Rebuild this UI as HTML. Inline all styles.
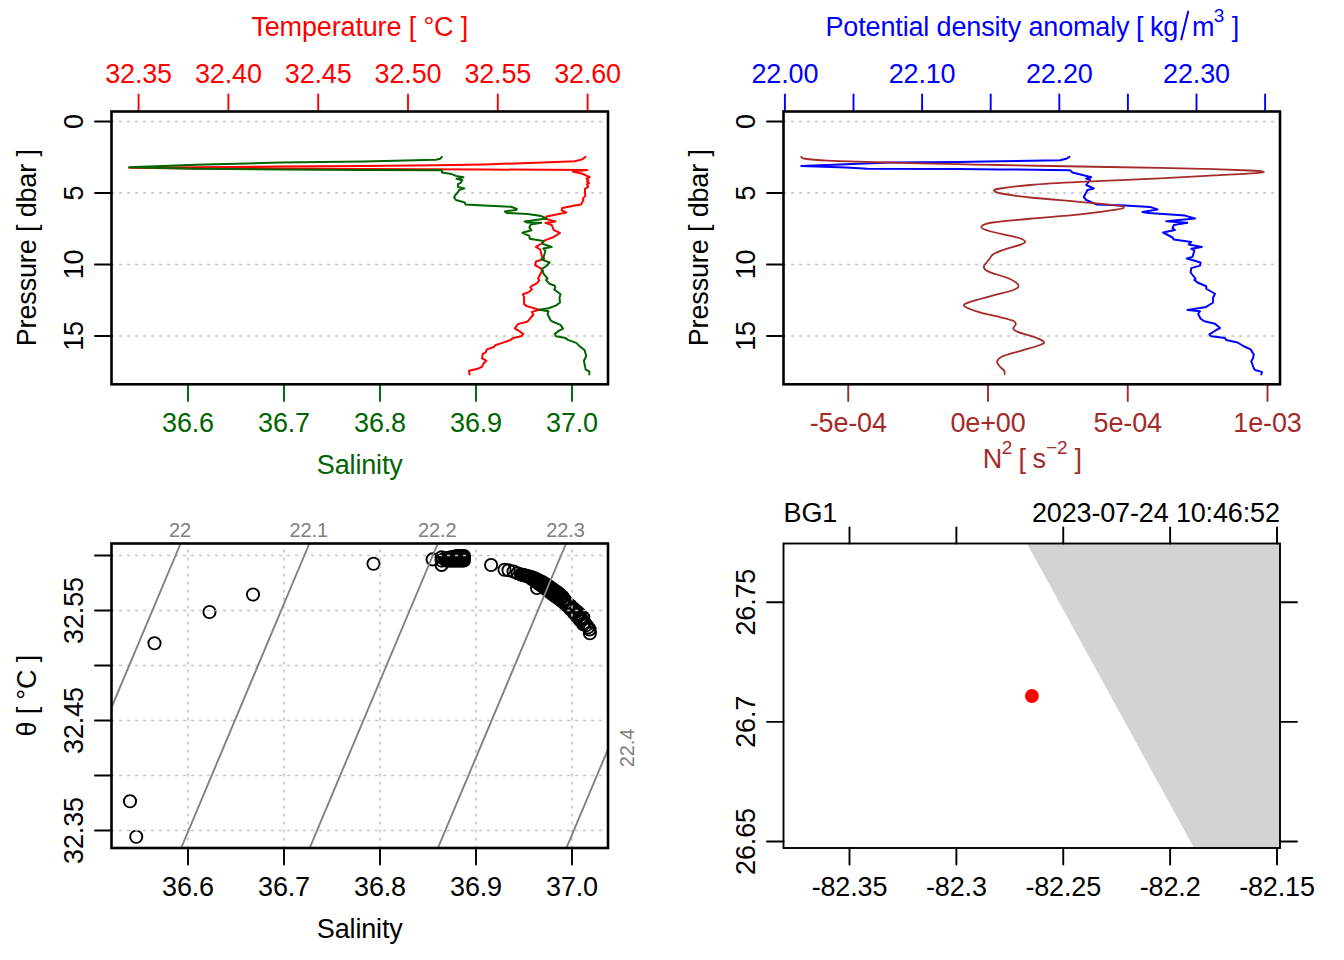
<!DOCTYPE html><html><head><meta charset="utf-8"><style>html,body{margin:0;padding:0;background:#fff;overflow:hidden}svg{display:block}</style></head><body><svg width="1344" height="960" viewBox="0 0 1344 960" font-family="Liberation Sans, sans-serif" style="letter-spacing:-0.15px">
<rect width="1344" height="960" fill="#fff"/>
<line x1="111.5" y1="121.5" x2="608.0" y2="121.5" stroke="#C4C4C4" stroke-width="1.6" stroke-linecap="butt" stroke-dasharray="3 5" stroke-dashoffset="0.4"/>
<line x1="111.5" y1="193.0" x2="608.0" y2="193.0" stroke="#C4C4C4" stroke-width="1.6" stroke-linecap="butt" stroke-dasharray="3 5" stroke-dashoffset="0.4"/>
<line x1="111.5" y1="264.5" x2="608.0" y2="264.5" stroke="#C4C4C4" stroke-width="1.6" stroke-linecap="butt" stroke-dasharray="3 5" stroke-dashoffset="0.4"/>
<line x1="111.5" y1="336.0" x2="608.0" y2="336.0" stroke="#C4C4C4" stroke-width="1.6" stroke-linecap="butt" stroke-dasharray="3 5" stroke-dashoffset="0.4"/>
<polyline points="585.40,156.90 582.25,159.40 574.75,161.25 556.00,162.00 484.00,164.50 436.00,165.30 364.00,166.00 280.00,166.60 196.00,167.20 129.20,167.80 196.00,168.40 364.00,168.90 484.00,169.50 587.25,170.00 572.90,171.60 582.25,173.75 589.75,177.20 586.60,178.75 588.50,180.60 587.00,181.90 589.10,183.10 587.00,184.40 588.20,186.90 585.00,188.75 585.00,193.10 585.40,195.60 582.90,198.75 583.50,200.00 581.00,204.40 574.75,205.60 562.25,208.10 561.60,210.40 566.25,212.50 546.50,216.50 545.40,218.75 555.30,221.40 545.40,222.90 551.70,225.00 553.75,230.20 560.00,232.80 553.75,237.00 545.40,240.10 541.25,243.75 536.00,246.90 540.20,249.50 542.30,257.80 544.40,258.90 536.00,261.50 535.00,265.10 541.25,268.60 541.80,271.25 538.10,278.50 539.20,280.10 537.10,283.20 531.90,285.80 530.30,287.40 531.90,289.50 528.75,292.10 523.00,294.20 524.10,297.30 524.10,304.10 526.70,306.10 539.20,309.80 531.90,311.90 533.40,314.50 528.75,320.20 527.20,321.80 518.30,323.85 514.70,328.30 518.40,330.60 523.20,333.90 521.40,336.30 513.10,338.10 510.70,339.90 502.40,342.90 495.20,345.20 494.00,347.00 486.90,349.40 485.70,352.40 482.70,354.20 482.10,358.30 486.30,360.70 483.30,363.70 482.10,366.70 478.60,368.50 469.00,370.80 469.60,374.40" fill="none" stroke="#FF0000" stroke-width="2.0" stroke-linejoin="round" stroke-linecap="round"/>
<polyline points="441.90,156.90 440.10,158.75 436.00,159.70 364.00,161.60 280.00,162.50 196.00,164.70 129.20,167.30 196.00,168.75 280.00,169.50 364.00,170.00 441.90,170.20 441.90,172.50 451.60,174.10 456.00,175.90 463.50,177.20 456.60,178.75 462.25,180.30 460.70,182.80 457.90,184.10 457.90,186.90 464.40,188.40 459.10,190.00 458.20,191.90 455.40,195.00 454.10,197.50 456.00,200.00 464.75,202.50 465.40,204.40 484.00,205.60 511.00,206.80 516.80,208.90 516.30,209.90 504.80,211.50 506.90,213.00 527.70,214.10 541.25,216.10 546.50,218.50 524.60,221.40 526.70,222.40 541.25,222.70 530.80,224.50 529.30,227.60 531.40,230.20 522.50,232.80 529.30,235.90 529.80,238.75 543.30,241.10 542.30,243.75 551.70,246.90 543.30,248.40 545.40,251.00 543.30,258.30 541.25,259.40 549.60,262.50 546.50,266.00 542.30,268.60 543.30,273.30 547.50,278.50 545.90,280.10 549.60,283.75 554.80,285.80 555.30,287.40 554.30,289.50 560.50,294.20 559.50,297.80 560.00,302.50 555.80,305.60 548.50,308.20 539.20,309.80 548.50,311.35 547.50,314.00 550.60,320.20 552.70,321.80 560.50,324.90 563.10,328.60 559.50,330.40 554.80,333.90 556.00,336.30 565.50,338.10 567.90,339.90 576.20,342.90 579.80,346.40 584.50,350.00 586.30,356.00 583.90,360.70 585.70,369.60 589.30,371.40 589.30,374.40" fill="none" stroke="#006400" stroke-width="2.0" stroke-linejoin="round" stroke-linecap="round"/>
<line x1="95" y1="121.5" x2="111.5" y2="121.5" stroke="#000" stroke-width="1.9" stroke-linecap="round" />
<text transform="translate(82.8,121.5) rotate(-90)" text-anchor="middle" font-size="27" fill="#000" >0</text>
<line x1="95" y1="193.0" x2="111.5" y2="193.0" stroke="#000" stroke-width="1.9" stroke-linecap="round" />
<text transform="translate(82.8,193.0) rotate(-90)" text-anchor="middle" font-size="27" fill="#000" >5</text>
<line x1="95" y1="264.5" x2="111.5" y2="264.5" stroke="#000" stroke-width="1.9" stroke-linecap="round" />
<text transform="translate(82.8,264.5) rotate(-90)" text-anchor="middle" font-size="27" fill="#000" >10</text>
<line x1="95" y1="336.0" x2="111.5" y2="336.0" stroke="#000" stroke-width="1.9" stroke-linecap="round" />
<text transform="translate(82.8,336.0) rotate(-90)" text-anchor="middle" font-size="27" fill="#000" >15</text>
<text transform="translate(36,247.75) rotate(-90)" text-anchor="middle" font-size="27" fill="#000" >Pressure [ dbar ]</text>
<line x1="138.6" y1="94.5" x2="138.6" y2="111.5" stroke="#FF0000" stroke-width="1.9" stroke-linecap="round" />
<text x="138.6" y="82.5" text-anchor="middle" font-size="27" fill="#FF0000" >32.35</text>
<line x1="228.39999999999998" y1="94.5" x2="228.39999999999998" y2="111.5" stroke="#FF0000" stroke-width="1.9" stroke-linecap="round" />
<text x="228.39999999999998" y="82.5" text-anchor="middle" font-size="27" fill="#FF0000" >32.40</text>
<line x1="318.2" y1="94.5" x2="318.2" y2="111.5" stroke="#FF0000" stroke-width="1.9" stroke-linecap="round" />
<text x="318.2" y="82.5" text-anchor="middle" font-size="27" fill="#FF0000" >32.45</text>
<line x1="408.0" y1="94.5" x2="408.0" y2="111.5" stroke="#FF0000" stroke-width="1.9" stroke-linecap="round" />
<text x="408.0" y="82.5" text-anchor="middle" font-size="27" fill="#FF0000" >32.50</text>
<line x1="497.79999999999995" y1="94.5" x2="497.79999999999995" y2="111.5" stroke="#FF0000" stroke-width="1.9" stroke-linecap="round" />
<text x="497.79999999999995" y="82.5" text-anchor="middle" font-size="27" fill="#FF0000" >32.55</text>
<line x1="587.6" y1="94.5" x2="587.6" y2="111.5" stroke="#FF0000" stroke-width="1.9" stroke-linecap="round" />
<text x="587.6" y="82.5" text-anchor="middle" font-size="27" fill="#FF0000" >32.60</text>
<text x="359.75" y="35.9" text-anchor="middle" font-size="27" fill="#FF0000" >Temperature [ °C ]</text>
<line x1="188" y1="384.3" x2="188" y2="401" stroke="#006400" stroke-width="1.9" stroke-linecap="round" />
<text x="188" y="432" text-anchor="middle" font-size="27" fill="#006400" >36.6</text>
<line x1="284" y1="384.3" x2="284" y2="401" stroke="#006400" stroke-width="1.9" stroke-linecap="round" />
<text x="284" y="432" text-anchor="middle" font-size="27" fill="#006400" >36.7</text>
<line x1="380" y1="384.3" x2="380" y2="401" stroke="#006400" stroke-width="1.9" stroke-linecap="round" />
<text x="380" y="432" text-anchor="middle" font-size="27" fill="#006400" >36.8</text>
<line x1="476" y1="384.3" x2="476" y2="401" stroke="#006400" stroke-width="1.9" stroke-linecap="round" />
<text x="476" y="432" text-anchor="middle" font-size="27" fill="#006400" >36.9</text>
<line x1="572" y1="384.3" x2="572" y2="401" stroke="#006400" stroke-width="1.9" stroke-linecap="round" />
<text x="572" y="432" text-anchor="middle" font-size="27" fill="#006400" >37.0</text>
<text x="359.75" y="473.7" text-anchor="middle" font-size="27" fill="#006400" >Salinity</text>
<rect x="111.5" y="111.5" width="496.5" height="272.8" fill="none" stroke="#000" stroke-width="2.6"/>
<line x1="783.5" y1="121.5" x2="1280.0" y2="121.5" stroke="#C4C4C4" stroke-width="1.6" stroke-linecap="butt" stroke-dasharray="3 5" stroke-dashoffset="0.4"/>
<line x1="783.5" y1="193.0" x2="1280.0" y2="193.0" stroke="#C4C4C4" stroke-width="1.6" stroke-linecap="butt" stroke-dasharray="3 5" stroke-dashoffset="0.4"/>
<line x1="783.5" y1="264.5" x2="1280.0" y2="264.5" stroke="#C4C4C4" stroke-width="1.6" stroke-linecap="butt" stroke-dasharray="3 5" stroke-dashoffset="0.4"/>
<line x1="783.5" y1="336.0" x2="1280.0" y2="336.0" stroke="#C4C4C4" stroke-width="1.6" stroke-linecap="butt" stroke-dasharray="3 5" stroke-dashoffset="0.4"/>
<polyline points="1069.40,156.90 1066.25,158.75 1060.00,160.25 1000.00,161.25 958.00,161.90 890.00,162.50 840.00,164.40 801.25,166.00 846.25,167.50 867.50,168.75 958.00,169.00 1000.00,169.40 1070.00,170.25 1072.50,172.50 1087.50,176.25 1091.25,177.25 1086.25,178.50 1090.00,180.00 1086.25,185.00 1093.75,188.50 1087.50,190.00 1083.75,197.00 1086.25,200.00 1096.25,204.40 1125.00,205.60 1150.00,206.90 1157.50,209.40 1142.50,211.90 1148.75,213.10 1185.00,215.60 1195.00,218.50 1166.25,221.25 1187.50,222.75 1173.75,225.00 1172.50,228.10 1175.00,230.00 1163.10,232.50 1172.50,237.50 1173.75,239.40 1191.25,241.90 1188.75,244.40 1201.90,246.90 1191.25,248.75 1194.40,250.60 1192.50,256.90 1186.90,258.50 1200.60,262.50 1200.00,265.60 1191.25,268.10 1190.60,272.50 1195.60,278.75 1194.40,280.00 1197.50,282.50 1206.25,286.25 1206.25,288.75 1215.00,293.75 1213.10,297.50 1213.10,302.50 1206.25,306.90 1187.50,310.00 1200.00,311.25 1198.10,313.75 1200.60,318.75 1204.40,321.25 1215.00,323.75 1220.00,328.10 1216.25,330.00 1209.40,334.40 1211.25,336.25 1225.00,338.10 1226.25,340.00 1237.50,342.50 1243.75,346.25 1250.60,349.40 1253.75,354.40 1253.10,358.10 1251.25,361.25 1253.75,368.10 1255.00,370.00 1261.90,371.90 1261.25,374.40" fill="none" stroke="#0000FF" stroke-width="2.0" stroke-linejoin="round" stroke-linecap="round"/>
<path d="M801.25,156.90 C801.88,157.21 800.62,158.13 805.00,158.75 C809.38,159.37 817.50,160.07 827.50,160.60 C837.50,161.12 852.50,161.52 865.00,161.90 C877.50,162.28 887.00,162.52 902.50,162.90 C918.00,163.28 941.75,163.85 958.00,164.20 C974.25,164.55 979.67,164.62 1000.00,165.00 C1020.33,165.38 1053.33,166.02 1080.00,166.50 C1106.67,166.98 1137.73,167.45 1160.00,167.90 C1182.27,168.35 1198.72,168.77 1213.60,169.20 C1228.48,169.63 1241.20,170.13 1249.30,170.50 C1257.40,170.87 1260.72,171.02 1262.20,171.40 C1263.68,171.78 1266.30,172.13 1258.20,172.80 C1250.10,173.47 1229.97,174.47 1213.60,175.40 C1197.23,176.33 1182.27,177.32 1160.00,178.40 C1137.73,179.48 1101.67,180.80 1080.00,181.90 C1058.33,183.00 1043.54,183.86 1030.00,185.00 C1016.46,186.14 1004.68,187.75 998.75,188.75 C992.82,189.75 993.98,190.21 994.40,191.00 C994.82,191.79 995.32,192.42 1001.25,193.50 C1007.18,194.58 1016.88,196.10 1030.00,197.50 C1043.12,198.90 1065.42,200.55 1080.00,201.90 C1094.58,203.25 1110.21,204.71 1117.50,205.60 C1124.79,206.49 1123.75,206.62 1123.75,207.25 C1123.75,207.88 1124.79,208.21 1117.50,209.40 C1110.21,210.59 1094.58,212.84 1080.00,214.40 C1065.42,215.96 1044.58,217.40 1030.00,218.75 C1015.42,220.10 1000.62,221.14 992.50,222.50 C984.38,223.86 981.67,225.44 981.25,226.90 C980.83,228.36 983.96,229.48 990.00,231.25 C996.04,233.02 1011.67,235.83 1017.50,237.50 C1023.33,239.17 1024.45,240.07 1025.00,241.25 C1025.55,242.43 1024.27,243.21 1020.80,244.60 C1017.33,245.99 1008.78,248.00 1004.20,249.60 C999.62,251.20 995.67,252.75 993.30,254.20 C990.93,255.65 991.10,256.92 990.00,258.30 C988.90,259.68 987.63,261.35 986.70,262.50 C985.77,263.65 984.85,264.32 984.40,265.20 C983.95,266.08 983.73,266.95 984.00,267.80 C984.27,268.65 984.72,269.47 986.00,270.30 C987.28,271.13 987.98,271.47 991.70,272.80 C995.42,274.13 1003.87,276.27 1008.30,278.30 C1012.73,280.33 1017.47,283.05 1018.30,285.00 C1019.13,286.95 1017.73,288.20 1013.30,290.00 C1008.87,291.80 998.78,293.85 991.70,295.80 C984.62,297.75 975.38,300.00 970.80,301.70 C966.22,303.40 962.80,304.27 964.20,306.00 C965.60,307.73 973.23,310.25 979.20,312.10 C985.17,313.95 994.32,315.65 1000.00,317.10 C1005.68,318.55 1010.67,319.62 1013.30,320.80 C1015.93,321.98 1015.80,322.88 1015.80,324.20 C1015.80,325.52 1012.88,327.43 1013.30,328.75 C1013.72,330.07 1014.97,330.78 1018.30,332.10 C1021.63,333.43 1029.06,335.10 1033.30,336.70 C1037.54,338.30 1042.63,340.32 1043.75,341.70 C1044.87,343.08 1043.83,343.48 1040.00,345.00 C1036.17,346.52 1027.18,348.85 1020.80,350.80 C1014.42,352.75 1005.65,354.88 1001.70,356.70 C997.75,358.52 997.38,360.03 997.10,361.70 C996.82,363.37 998.82,365.18 1000.00,366.70 C1001.18,368.22 1003.43,369.55 1004.20,370.80 C1004.97,372.05 1004.53,373.63 1004.60,374.20" fill="none" stroke="#A52A2A" stroke-width="1.8" stroke-linejoin="round" stroke-linecap="round"/>
<line x1="767" y1="121.5" x2="783.5" y2="121.5" stroke="#000" stroke-width="1.9" stroke-linecap="round" />
<text transform="translate(754.8,121.5) rotate(-90)" text-anchor="middle" font-size="27" fill="#000" >0</text>
<line x1="767" y1="193.0" x2="783.5" y2="193.0" stroke="#000" stroke-width="1.9" stroke-linecap="round" />
<text transform="translate(754.8,193.0) rotate(-90)" text-anchor="middle" font-size="27" fill="#000" >5</text>
<line x1="767" y1="264.5" x2="783.5" y2="264.5" stroke="#000" stroke-width="1.9" stroke-linecap="round" />
<text transform="translate(754.8,264.5) rotate(-90)" text-anchor="middle" font-size="27" fill="#000" >10</text>
<line x1="767" y1="336.0" x2="783.5" y2="336.0" stroke="#000" stroke-width="1.9" stroke-linecap="round" />
<text transform="translate(754.8,336.0) rotate(-90)" text-anchor="middle" font-size="27" fill="#000" >15</text>
<text transform="translate(708,247.75) rotate(-90)" text-anchor="middle" font-size="27" fill="#000" >Pressure [ dbar ]</text>
<line x1="784.9" y1="94.5" x2="784.9" y2="111.5" stroke="#0000FF" stroke-width="1.9" stroke-linecap="round" />
<line x1="853.5" y1="94.5" x2="853.5" y2="111.5" stroke="#0000FF" stroke-width="1.9" stroke-linecap="round" />
<line x1="922.0999999999999" y1="94.5" x2="922.0999999999999" y2="111.5" stroke="#0000FF" stroke-width="1.9" stroke-linecap="round" />
<line x1="990.6999999999999" y1="94.5" x2="990.6999999999999" y2="111.5" stroke="#0000FF" stroke-width="1.9" stroke-linecap="round" />
<line x1="1059.3" y1="94.5" x2="1059.3" y2="111.5" stroke="#0000FF" stroke-width="1.9" stroke-linecap="round" />
<line x1="1127.9" y1="94.5" x2="1127.9" y2="111.5" stroke="#0000FF" stroke-width="1.9" stroke-linecap="round" />
<line x1="1196.5" y1="94.5" x2="1196.5" y2="111.5" stroke="#0000FF" stroke-width="1.9" stroke-linecap="round" />
<line x1="1265.1" y1="94.5" x2="1265.1" y2="111.5" stroke="#0000FF" stroke-width="1.9" stroke-linecap="round" />
<text x="784.9" y="82.5" text-anchor="middle" font-size="27" fill="#0000FF" >22.00</text>
<text x="922.0999999999999" y="82.5" text-anchor="middle" font-size="27" fill="#0000FF" >22.10</text>
<text x="1059.3" y="82.5" text-anchor="middle" font-size="27" fill="#0000FF" >22.20</text>
<text x="1196.5" y="82.5" text-anchor="middle" font-size="27" fill="#0000FF" >22.30</text>
<text x="825.5" y="35.8" font-size="27" fill="#0000FF">Potential density anomaly</text>
<text x="1135.9" y="35.8" font-size="27" fill="#0000FF">[</text>
<text x="1149.9" y="35.8" font-size="27" fill="#0000FF">kg</text>
<line x1="1181.3" y1="39.4" x2="1188.2" y2="11.6" stroke="#0000FF" stroke-width="2.0" stroke-linecap="round" />
<text x="1192" y="35.8" font-size="27" fill="#0000FF">m</text>
<text x="1213.8" y="22.2" font-size="19" fill="#0000FF">3</text>
<text x="1231.7" y="35.8" font-size="27" fill="#0000FF">]</text>
<line x1="848.25" y1="384.3" x2="848.25" y2="401" stroke="#A52A2A" stroke-width="1.9" stroke-linecap="round" />
<text x="848.25" y="432" text-anchor="middle" font-size="27" fill="#A52A2A" >-5e-04</text>
<line x1="988.0" y1="384.3" x2="988.0" y2="401" stroke="#A52A2A" stroke-width="1.9" stroke-linecap="round" />
<text x="988.0" y="432" text-anchor="middle" font-size="27" fill="#A52A2A" >0e+00</text>
<line x1="1127.75" y1="384.3" x2="1127.75" y2="401" stroke="#A52A2A" stroke-width="1.9" stroke-linecap="round" />
<text x="1127.75" y="432" text-anchor="middle" font-size="27" fill="#A52A2A" >5e-04</text>
<line x1="1267.5" y1="384.3" x2="1267.5" y2="401" stroke="#A52A2A" stroke-width="1.9" stroke-linecap="round" />
<text x="1267.5" y="432" text-anchor="middle" font-size="27" fill="#A52A2A" >1e-03</text>
<text x="982.8" y="467.7" font-size="27" fill="#A52A2A">N</text>
<text x="1001.8" y="454.2" font-size="19" fill="#A52A2A">2</text>
<text x="1018.4" y="467.7" font-size="27" fill="#A52A2A">[</text>
<text x="1032.5" y="467.7" font-size="27" fill="#A52A2A">s</text>
<text x="1046" y="454.2" font-size="19" fill="#A52A2A">−2</text>
<text x="1074.4" y="467.7" font-size="27" fill="#A52A2A">]</text>
<rect x="783.5" y="111.5" width="496.5" height="272.8" fill="none" stroke="#000" stroke-width="2.6"/>
<defs><clipPath id="tsclip"><rect x="111.5" y="543.5" width="496.5" height="304.5"/></clipPath></defs>
<text x="180" y="536.75" text-anchor="middle" font-size="20" fill="#808080" >22</text>
<text x="308.75" y="536.75" text-anchor="middle" font-size="20" fill="#808080" >22.1</text>
<text x="437.25" y="536.75" text-anchor="middle" font-size="20" fill="#808080" >22.2</text>
<text x="565.5" y="536.75" text-anchor="middle" font-size="20" fill="#808080" >22.3</text>
<text transform="translate(633.8,748) rotate(-90)" text-anchor="middle" font-size="20" fill="#808080" >22.4</text>
<circle cx="154.50" cy="643.25" r="6.1" fill="none" stroke="#000" stroke-width="1.9"/>
<circle cx="209.50" cy="612.00" r="6.1" fill="none" stroke="#000" stroke-width="1.9"/>
<circle cx="253.00" cy="594.50" r="6.1" fill="none" stroke="#000" stroke-width="1.9"/>
<circle cx="130.00" cy="801.25" r="6.1" fill="none" stroke="#000" stroke-width="1.9"/>
<circle cx="136.25" cy="836.75" r="6.1" fill="none" stroke="#000" stroke-width="1.9"/>
<circle cx="373.50" cy="563.75" r="6.1" fill="none" stroke="#000" stroke-width="1.9"/>
<circle cx="432.60" cy="559.40" r="6.1" fill="none" stroke="#000" stroke-width="1.9"/>
<circle cx="491.10" cy="565.00" r="6.1" fill="none" stroke="#000" stroke-width="1.9"/>
<circle cx="441.60" cy="557.20" r="6.1" fill="none" stroke="#000" stroke-width="1.9"/>
<circle cx="441.60" cy="560.60" r="6.1" fill="none" stroke="#000" stroke-width="1.9"/>
<circle cx="441.60" cy="564.90" r="6.1" fill="none" stroke="#000" stroke-width="1.9"/>
<circle cx="444.50" cy="558.50" r="6.1" fill="none" stroke="#000" stroke-width="1.9"/>
<circle cx="446.00" cy="558.50" r="6.1" fill="none" stroke="#000" stroke-width="1.9"/>
<circle cx="446.00" cy="559.45" r="6.1" fill="none" stroke="#000" stroke-width="1.9"/>
<circle cx="446.00" cy="560.40" r="6.1" fill="none" stroke="#000" stroke-width="1.9"/>
<circle cx="447.50" cy="558.19" r="6.1" fill="none" stroke="#000" stroke-width="1.9"/>
<circle cx="447.50" cy="559.29" r="6.1" fill="none" stroke="#000" stroke-width="1.9"/>
<circle cx="447.50" cy="560.40" r="6.1" fill="none" stroke="#000" stroke-width="1.9"/>
<circle cx="449.00" cy="557.88" r="6.1" fill="none" stroke="#000" stroke-width="1.9"/>
<circle cx="449.00" cy="559.14" r="6.1" fill="none" stroke="#000" stroke-width="1.9"/>
<circle cx="449.00" cy="560.40" r="6.1" fill="none" stroke="#000" stroke-width="1.9"/>
<circle cx="450.50" cy="557.56" r="6.1" fill="none" stroke="#000" stroke-width="1.9"/>
<circle cx="450.50" cy="558.98" r="6.1" fill="none" stroke="#000" stroke-width="1.9"/>
<circle cx="450.50" cy="560.40" r="6.1" fill="none" stroke="#000" stroke-width="1.9"/>
<circle cx="452.00" cy="557.25" r="6.1" fill="none" stroke="#000" stroke-width="1.9"/>
<circle cx="452.00" cy="558.83" r="6.1" fill="none" stroke="#000" stroke-width="1.9"/>
<circle cx="452.00" cy="560.40" r="6.1" fill="none" stroke="#000" stroke-width="1.9"/>
<circle cx="453.50" cy="556.94" r="6.1" fill="none" stroke="#000" stroke-width="1.9"/>
<circle cx="453.50" cy="558.67" r="6.1" fill="none" stroke="#000" stroke-width="1.9"/>
<circle cx="453.50" cy="560.40" r="6.1" fill="none" stroke="#000" stroke-width="1.9"/>
<circle cx="455.00" cy="556.62" r="6.1" fill="none" stroke="#000" stroke-width="1.9"/>
<circle cx="455.00" cy="558.51" r="6.1" fill="none" stroke="#000" stroke-width="1.9"/>
<circle cx="455.00" cy="560.40" r="6.1" fill="none" stroke="#000" stroke-width="1.9"/>
<circle cx="456.50" cy="556.31" r="6.1" fill="none" stroke="#000" stroke-width="1.9"/>
<circle cx="456.50" cy="558.36" r="6.1" fill="none" stroke="#000" stroke-width="1.9"/>
<circle cx="456.50" cy="560.40" r="6.1" fill="none" stroke="#000" stroke-width="1.9"/>
<circle cx="458.00" cy="556.00" r="6.1" fill="none" stroke="#000" stroke-width="1.9"/>
<circle cx="458.00" cy="558.20" r="6.1" fill="none" stroke="#000" stroke-width="1.9"/>
<circle cx="458.00" cy="560.40" r="6.1" fill="none" stroke="#000" stroke-width="1.9"/>
<circle cx="459.50" cy="556.00" r="6.1" fill="none" stroke="#000" stroke-width="1.9"/>
<circle cx="459.50" cy="558.20" r="6.1" fill="none" stroke="#000" stroke-width="1.9"/>
<circle cx="459.50" cy="560.40" r="6.1" fill="none" stroke="#000" stroke-width="1.9"/>
<circle cx="461.00" cy="556.00" r="6.1" fill="none" stroke="#000" stroke-width="1.9"/>
<circle cx="461.00" cy="558.20" r="6.1" fill="none" stroke="#000" stroke-width="1.9"/>
<circle cx="461.00" cy="560.40" r="6.1" fill="none" stroke="#000" stroke-width="1.9"/>
<circle cx="462.50" cy="556.00" r="6.1" fill="none" stroke="#000" stroke-width="1.9"/>
<circle cx="462.50" cy="558.20" r="6.1" fill="none" stroke="#000" stroke-width="1.9"/>
<circle cx="462.50" cy="560.40" r="6.1" fill="none" stroke="#000" stroke-width="1.9"/>
<circle cx="464.00" cy="556.00" r="6.1" fill="none" stroke="#000" stroke-width="1.9"/>
<circle cx="464.00" cy="558.20" r="6.1" fill="none" stroke="#000" stroke-width="1.9"/>
<circle cx="464.00" cy="560.40" r="6.1" fill="none" stroke="#000" stroke-width="1.9"/>
<circle cx="504.50" cy="569.75" r="6.1" fill="none" stroke="#000" stroke-width="1.9"/>
<circle cx="508.50" cy="570.20" r="6.1" fill="none" stroke="#000" stroke-width="1.9"/>
<circle cx="513.50" cy="571.50" r="6.1" fill="none" stroke="#000" stroke-width="1.9"/>
<circle cx="517.50" cy="573.30" r="6.1" fill="none" stroke="#000" stroke-width="1.9"/>
<circle cx="537.00" cy="588.00" r="6.1" fill="none" stroke="#000" stroke-width="1.9"/>
<circle cx="521.00" cy="574.50" r="6.1" fill="none" stroke="#000" stroke-width="1.9"/>
<circle cx="522.30" cy="574.83" r="6.1" fill="none" stroke="#000" stroke-width="1.9"/>
<circle cx="523.60" cy="575.15" r="6.1" fill="none" stroke="#000" stroke-width="1.9"/>
<circle cx="524.90" cy="575.47" r="6.1" fill="none" stroke="#000" stroke-width="1.9"/>
<circle cx="526.20" cy="575.80" r="6.1" fill="none" stroke="#000" stroke-width="1.9"/>
<circle cx="527.50" cy="576.12" r="6.1" fill="none" stroke="#000" stroke-width="1.9"/>
<circle cx="528.80" cy="576.45" r="6.1" fill="none" stroke="#000" stroke-width="1.9"/>
<circle cx="530.10" cy="577.53" r="6.1" fill="none" stroke="#000" stroke-width="1.9"/>
<circle cx="531.40" cy="577.10" r="6.1" fill="none" stroke="#000" stroke-width="1.9"/>
<circle cx="531.40" cy="578.83" r="6.1" fill="none" stroke="#000" stroke-width="1.9"/>
<circle cx="532.70" cy="578.40" r="6.1" fill="none" stroke="#000" stroke-width="1.9"/>
<circle cx="534.00" cy="577.99" r="6.1" fill="none" stroke="#000" stroke-width="1.9"/>
<circle cx="534.00" cy="580.25" r="6.1" fill="none" stroke="#000" stroke-width="1.9"/>
<circle cx="535.30" cy="579.93" r="6.1" fill="none" stroke="#000" stroke-width="1.9"/>
<circle cx="536.60" cy="579.26" r="6.1" fill="none" stroke="#000" stroke-width="1.9"/>
<circle cx="536.60" cy="582.20" r="6.1" fill="none" stroke="#000" stroke-width="1.9"/>
<circle cx="537.90" cy="581.54" r="6.1" fill="none" stroke="#000" stroke-width="1.9"/>
<circle cx="539.20" cy="580.54" r="6.1" fill="none" stroke="#000" stroke-width="1.9"/>
<circle cx="539.20" cy="584.15" r="6.1" fill="none" stroke="#000" stroke-width="1.9"/>
<circle cx="540.50" cy="583.15" r="6.1" fill="none" stroke="#000" stroke-width="1.9"/>
<circle cx="541.80" cy="581.81" r="6.1" fill="none" stroke="#000" stroke-width="1.9"/>
<circle cx="541.80" cy="586.10" r="6.1" fill="none" stroke="#000" stroke-width="1.9"/>
<circle cx="543.10" cy="584.77" r="6.1" fill="none" stroke="#000" stroke-width="1.9"/>
<circle cx="544.40" cy="583.34" r="6.1" fill="none" stroke="#000" stroke-width="1.9"/>
<circle cx="544.40" cy="588.07" r="6.1" fill="none" stroke="#000" stroke-width="1.9"/>
<circle cx="545.70" cy="586.64" r="6.1" fill="none" stroke="#000" stroke-width="1.9"/>
<circle cx="547.00" cy="585.08" r="6.1" fill="none" stroke="#000" stroke-width="1.9"/>
<circle cx="547.00" cy="590.06" r="6.1" fill="none" stroke="#000" stroke-width="1.9"/>
<circle cx="548.30" cy="588.50" r="6.1" fill="none" stroke="#000" stroke-width="1.9"/>
<circle cx="549.60" cy="586.83" r="6.1" fill="none" stroke="#000" stroke-width="1.9"/>
<circle cx="549.60" cy="592.05" r="6.1" fill="none" stroke="#000" stroke-width="1.9"/>
<circle cx="550.90" cy="590.37" r="6.1" fill="none" stroke="#000" stroke-width="1.9"/>
<circle cx="552.20" cy="588.60" r="6.1" fill="none" stroke="#000" stroke-width="1.9"/>
<circle cx="552.20" cy="594.02" r="6.1" fill="none" stroke="#000" stroke-width="1.9"/>
<circle cx="553.50" cy="592.25" r="6.1" fill="none" stroke="#000" stroke-width="1.9"/>
<circle cx="554.80" cy="590.47" r="6.1" fill="none" stroke="#000" stroke-width="1.9"/>
<circle cx="554.80" cy="595.93" r="6.1" fill="none" stroke="#000" stroke-width="1.9"/>
<circle cx="556.10" cy="594.15" r="6.1" fill="none" stroke="#000" stroke-width="1.9"/>
<circle cx="557.40" cy="592.33" r="6.1" fill="none" stroke="#000" stroke-width="1.9"/>
<circle cx="557.40" cy="597.85" r="6.1" fill="none" stroke="#000" stroke-width="1.9"/>
<circle cx="558.70" cy="596.04" r="6.1" fill="none" stroke="#000" stroke-width="1.9"/>
<circle cx="560.00" cy="594.20" r="6.1" fill="none" stroke="#000" stroke-width="1.9"/>
<circle cx="560.00" cy="599.77" r="6.1" fill="none" stroke="#000" stroke-width="1.9"/>
<circle cx="561.30" cy="597.93" r="6.1" fill="none" stroke="#000" stroke-width="1.9"/>
<circle cx="562.60" cy="596.76" r="6.1" fill="none" stroke="#000" stroke-width="1.9"/>
<circle cx="562.60" cy="601.81" r="6.1" fill="none" stroke="#000" stroke-width="1.9"/>
<circle cx="563.90" cy="600.68" r="6.1" fill="none" stroke="#000" stroke-width="1.9"/>
<circle cx="565.20" cy="600.15" r="6.1" fill="none" stroke="#000" stroke-width="1.9"/>
<circle cx="565.20" cy="603.99" r="6.1" fill="none" stroke="#000" stroke-width="1.9"/>
<circle cx="566.50" cy="603.46" r="6.1" fill="none" stroke="#000" stroke-width="1.9"/>
<circle cx="567.80" cy="603.22" r="6.1" fill="none" stroke="#000" stroke-width="1.9"/>
<circle cx="567.80" cy="606.38" r="6.1" fill="none" stroke="#000" stroke-width="1.9"/>
<circle cx="569.10" cy="606.11" r="6.1" fill="none" stroke="#000" stroke-width="1.9"/>
<circle cx="570.40" cy="605.58" r="6.1" fill="none" stroke="#000" stroke-width="1.9"/>
<circle cx="570.40" cy="609.26" r="6.1" fill="none" stroke="#000" stroke-width="1.9"/>
<circle cx="572.00" cy="609.03" r="6.1" fill="none" stroke="#000" stroke-width="1.9"/>
<circle cx="573.60" cy="608.48" r="6.1" fill="none" stroke="#000" stroke-width="1.9"/>
<circle cx="573.60" cy="612.80" r="6.1" fill="none" stroke="#000" stroke-width="1.9"/>
<circle cx="575.20" cy="612.25" r="6.1" fill="none" stroke="#000" stroke-width="1.9"/>
<circle cx="576.80" cy="611.34" r="6.1" fill="none" stroke="#000" stroke-width="1.9"/>
<circle cx="576.80" cy="616.47" r="6.1" fill="none" stroke="#000" stroke-width="1.9"/>
<circle cx="578.40" cy="615.57" r="6.1" fill="none" stroke="#000" stroke-width="1.9"/>
<circle cx="580.00" cy="614.13" r="6.1" fill="none" stroke="#000" stroke-width="1.9"/>
<circle cx="580.00" cy="620.35" r="6.1" fill="none" stroke="#000" stroke-width="1.9"/>
<circle cx="581.60" cy="618.91" r="6.1" fill="none" stroke="#000" stroke-width="1.9"/>
<circle cx="583.20" cy="617.31" r="6.1" fill="none" stroke="#000" stroke-width="1.9"/>
<circle cx="583.20" cy="624.22" r="6.1" fill="none" stroke="#000" stroke-width="1.9"/>
<circle cx="584.80" cy="622.94" r="6.1" fill="none" stroke="#000" stroke-width="1.9"/>
<circle cx="586.40" cy="625.11" r="6.1" fill="none" stroke="#000" stroke-width="1.9"/>
<circle cx="588.00" cy="627.28" r="6.1" fill="none" stroke="#000" stroke-width="1.9"/>
<circle cx="589.60" cy="629.45" r="6.1" fill="none" stroke="#000" stroke-width="1.9"/>
<circle cx="589.90" cy="633.30" r="6.1" fill="none" stroke="#000" stroke-width="1.9"/>
<line x1="111.5" y1="555.5" x2="608.0" y2="555.5" stroke="#C4C4C4" stroke-width="1.6" stroke-linecap="butt" stroke-dasharray="3 5" stroke-dashoffset="0.4"/>
<line x1="111.5" y1="610.5" x2="608.0" y2="610.5" stroke="#C4C4C4" stroke-width="1.6" stroke-linecap="butt" stroke-dasharray="3 5" stroke-dashoffset="0.4"/>
<line x1="111.5" y1="665.5" x2="608.0" y2="665.5" stroke="#C4C4C4" stroke-width="1.6" stroke-linecap="butt" stroke-dasharray="3 5" stroke-dashoffset="0.4"/>
<line x1="111.5" y1="720.5" x2="608.0" y2="720.5" stroke="#C4C4C4" stroke-width="1.6" stroke-linecap="butt" stroke-dasharray="3 5" stroke-dashoffset="0.4"/>
<line x1="111.5" y1="775.5" x2="608.0" y2="775.5" stroke="#C4C4C4" stroke-width="1.6" stroke-linecap="butt" stroke-dasharray="3 5" stroke-dashoffset="0.4"/>
<line x1="111.5" y1="830.5" x2="608.0" y2="830.5" stroke="#C4C4C4" stroke-width="1.6" stroke-linecap="butt" stroke-dasharray="3 5" stroke-dashoffset="0.4"/>
<line x1="188" y1="848.0" x2="188" y2="543.5" stroke="#C4C4C4" stroke-width="1.6" stroke-linecap="butt" stroke-dasharray="3 5" stroke-dashoffset="0.4"/>
<line x1="284" y1="848.0" x2="284" y2="543.5" stroke="#C4C4C4" stroke-width="1.6" stroke-linecap="butt" stroke-dasharray="3 5" stroke-dashoffset="0.4"/>
<line x1="380" y1="848.0" x2="380" y2="543.5" stroke="#C4C4C4" stroke-width="1.6" stroke-linecap="butt" stroke-dasharray="3 5" stroke-dashoffset="0.4"/>
<line x1="476" y1="848.0" x2="476" y2="543.5" stroke="#C4C4C4" stroke-width="1.6" stroke-linecap="butt" stroke-dasharray="3 5" stroke-dashoffset="0.4"/>
<line x1="572" y1="848.0" x2="572" y2="543.5" stroke="#C4C4C4" stroke-width="1.6" stroke-linecap="butt" stroke-dasharray="3 5" stroke-dashoffset="0.4"/>
<g clip-path="url(#tsclip)">
<line x1="180.6" y1="543.5" x2="52.40549999999999" y2="848.0" stroke="#808080" stroke-width="1.9" stroke-linecap="round" />
<line x1="309.35" y1="543.5" x2="181.15550000000002" y2="848.0" stroke="#808080" stroke-width="1.9" stroke-linecap="round" />
<line x1="437.85" y1="543.5" x2="309.6555" y2="848.0" stroke="#808080" stroke-width="1.9" stroke-linecap="round" />
<line x1="566.1" y1="543.5" x2="437.9055" y2="848.0" stroke="#808080" stroke-width="1.9" stroke-linecap="round" />
<line x1="694.6" y1="543.5" x2="566.4055000000001" y2="848.0" stroke="#808080" stroke-width="1.9" stroke-linecap="round" />
</g>
<line x1="95" y1="555.5" x2="111.5" y2="555.5" stroke="#000" stroke-width="1.9" stroke-linecap="round" />
<line x1="95" y1="610.5" x2="111.5" y2="610.5" stroke="#000" stroke-width="1.9" stroke-linecap="round" />
<line x1="95" y1="665.5" x2="111.5" y2="665.5" stroke="#000" stroke-width="1.9" stroke-linecap="round" />
<line x1="95" y1="720.5" x2="111.5" y2="720.5" stroke="#000" stroke-width="1.9" stroke-linecap="round" />
<line x1="95" y1="775.5" x2="111.5" y2="775.5" stroke="#000" stroke-width="1.9" stroke-linecap="round" />
<line x1="95" y1="830.5" x2="111.5" y2="830.5" stroke="#000" stroke-width="1.9" stroke-linecap="round" />
<text transform="translate(82.8,610.5) rotate(-90)" text-anchor="middle" font-size="27" fill="#000" >32.55</text>
<text transform="translate(82.8,720.4999999999937) rotate(-90)" text-anchor="middle" font-size="27" fill="#000" >32.45</text>
<text transform="translate(82.8,830.4999999999953) rotate(-90)" text-anchor="middle" font-size="27" fill="#000" >32.35</text>
<text transform="translate(36,695.75) rotate(-90)" text-anchor="middle" font-size="27" fill="#000" >θ [ °C ]</text>
<line x1="188" y1="848.0" x2="188" y2="864.5" stroke="#000" stroke-width="1.9" stroke-linecap="round" />
<text x="188" y="896.2" text-anchor="middle" font-size="27" fill="#000" >36.6</text>
<line x1="284" y1="848.0" x2="284" y2="864.5" stroke="#000" stroke-width="1.9" stroke-linecap="round" />
<text x="284" y="896.2" text-anchor="middle" font-size="27" fill="#000" >36.7</text>
<line x1="380" y1="848.0" x2="380" y2="864.5" stroke="#000" stroke-width="1.9" stroke-linecap="round" />
<text x="380" y="896.2" text-anchor="middle" font-size="27" fill="#000" >36.8</text>
<line x1="476" y1="848.0" x2="476" y2="864.5" stroke="#000" stroke-width="1.9" stroke-linecap="round" />
<text x="476" y="896.2" text-anchor="middle" font-size="27" fill="#000" >36.9</text>
<line x1="572" y1="848.0" x2="572" y2="864.5" stroke="#000" stroke-width="1.9" stroke-linecap="round" />
<text x="572" y="896.2" text-anchor="middle" font-size="27" fill="#000" >37.0</text>
<text x="359.75" y="937.8" text-anchor="middle" font-size="27" fill="#000" >Salinity</text>
<rect x="111.5" y="543.5" width="496.5" height="304.5" fill="none" stroke="#000" stroke-width="2.6"/>
<polygon points="1026.9,543.5 1280.0,543.5 1280.0,848.0 1194.1,848.0" fill="#D3D3D3"/>
<circle cx="1031.9" cy="696" r="6.9" fill="#FF0000"/>
<line x1="849.5" y1="527.5" x2="849.5" y2="543.5" stroke="#000" stroke-width="1.9" stroke-linecap="round" />
<line x1="849.5" y1="848.0" x2="849.5" y2="864.5" stroke="#000" stroke-width="1.9" stroke-linecap="round" />
<text x="849.5" y="895.7" text-anchor="middle" font-size="27" fill="#000" >-82.35</text>
<line x1="956.375" y1="527.5" x2="956.375" y2="543.5" stroke="#000" stroke-width="1.9" stroke-linecap="round" />
<line x1="956.375" y1="848.0" x2="956.375" y2="864.5" stroke="#000" stroke-width="1.9" stroke-linecap="round" />
<text x="956.375" y="895.7" text-anchor="middle" font-size="27" fill="#000" >-82.3</text>
<line x1="1063.25" y1="527.5" x2="1063.25" y2="543.5" stroke="#000" stroke-width="1.9" stroke-linecap="round" />
<line x1="1063.25" y1="848.0" x2="1063.25" y2="864.5" stroke="#000" stroke-width="1.9" stroke-linecap="round" />
<text x="1063.25" y="895.7" text-anchor="middle" font-size="27" fill="#000" >-82.25</text>
<line x1="1170.125" y1="527.5" x2="1170.125" y2="543.5" stroke="#000" stroke-width="1.9" stroke-linecap="round" />
<line x1="1170.125" y1="848.0" x2="1170.125" y2="864.5" stroke="#000" stroke-width="1.9" stroke-linecap="round" />
<text x="1170.125" y="895.7" text-anchor="middle" font-size="27" fill="#000" >-82.2</text>
<line x1="1277.0" y1="527.5" x2="1277.0" y2="543.5" stroke="#000" stroke-width="1.9" stroke-linecap="round" />
<line x1="1277.0" y1="848.0" x2="1277.0" y2="864.5" stroke="#000" stroke-width="1.9" stroke-linecap="round" />
<text x="1277.0" y="895.7" text-anchor="middle" font-size="27" fill="#000" >-82.15</text>
<line x1="767" y1="841.5" x2="783.5" y2="841.5" stroke="#000" stroke-width="1.9" stroke-linecap="round" />
<line x1="1280.0" y1="841.5" x2="1297" y2="841.5" stroke="#000" stroke-width="1.9" stroke-linecap="round" />
<text transform="translate(754.5,841.5) rotate(-90)" text-anchor="middle" font-size="27" fill="#000" >26.65</text>
<line x1="767" y1="721.8499999999983" x2="783.5" y2="721.8499999999983" stroke="#000" stroke-width="1.9" stroke-linecap="round" />
<line x1="1280.0" y1="721.8499999999983" x2="1297" y2="721.8499999999983" stroke="#000" stroke-width="1.9" stroke-linecap="round" />
<text transform="translate(754.5,721.8499999999983) rotate(-90)" text-anchor="middle" font-size="27" fill="#000" >26.7</text>
<line x1="767" y1="602.1999999999966" x2="783.5" y2="602.1999999999966" stroke="#000" stroke-width="1.9" stroke-linecap="round" />
<line x1="1280.0" y1="602.1999999999966" x2="1297" y2="602.1999999999966" stroke="#000" stroke-width="1.9" stroke-linecap="round" />
<text transform="translate(754.5,602.1999999999966) rotate(-90)" text-anchor="middle" font-size="27" fill="#000" >26.75</text>
<text x="783.6" y="521.6" text-anchor="start" font-size="27" fill="#000" >BG1</text>
<text x="1279.8" y="521.6" text-anchor="end" font-size="27" fill="#000" >2023-07-24 10:46:52</text>
<rect x="783.5" y="543.5" width="496.5" height="304.5" fill="none" stroke="#000" stroke-width="1.9"/>
</svg></body></html>
